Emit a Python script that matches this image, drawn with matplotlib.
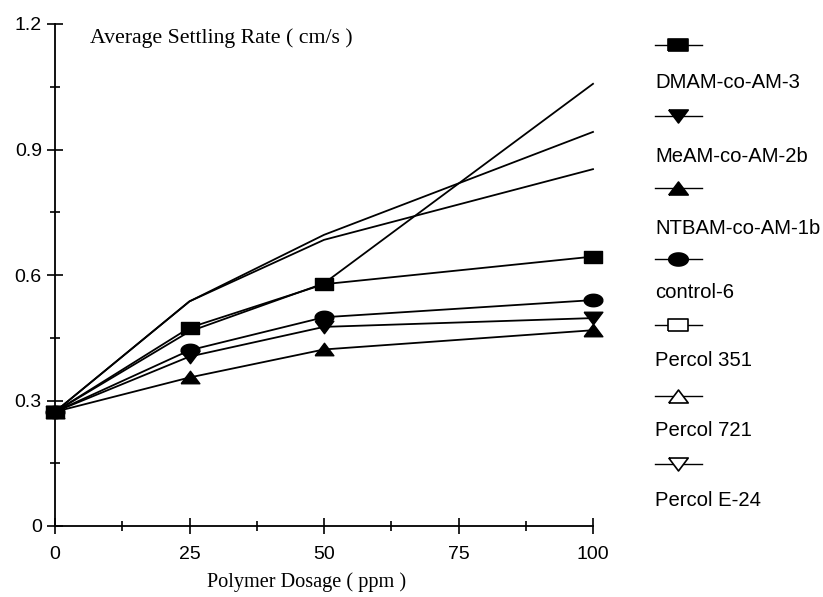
import numpy as np
import matplotlib
matplotlib.use("Agg")
import matplotlib.pyplot as plt
from matplotlib.ticker import MultipleLocator

# polymer dosage (ppm) and average settling rate (cm/s)
dosage = [0, 25, 50, 100]
dmam = [0.273, 0.474, 0.578, 0.644]
meam = [0.273, 0.405, 0.476, 0.497]
ntbam = [0.273, 0.355, 0.422, 0.468]
control6 = [0.273, 0.420, 0.499, 0.540]
percol351 = [0.273, 0.465, 0.580, 1.057]
percol721 = [0.273, 0.537, 0.696, 0.942]
percolE24 = [0.273, 0.537, 0.684, 0.853]

names = ["DMAM-co-AM-3", "MeAM-co-AM-2b", "NTBAM-co-AM-1b", "control-6",
         "Percol 351", "Percol 721", "Percol E-24"]

# wide marker shapes (scan is stretched horizontally)
t = np.linspace(0, 2*np.pi, 40)
m_rect = [(-1.5, -1), (1.5, -1), (1.5, 1), (-1.5, 1), (-1.5, -1)]
m_ell = list(zip(1.5*np.cos(t), np.sin(t)))
m_up = [(-1.5, -1), (1.5, -1), (0, 1), (-1.5, -1)]
m_down = [(-1.5, 1), (1.5, 1), (0, -1), (-1.5, 1)]
markers = [m_rect, m_down, m_up, m_ell, m_rect, m_up, m_down]
filled = [True, True, True, True, False, False, False]

W, H = 823, 597
fig = plt.figure(figsize=(W/100, H/100), dpi=100)
ax = fig.add_axes([55/W, (H-526)/H, 538/W, 502/H])

lw = 1.3
# percol lines (markers lost in the scan)
for ys in [percol351, percol721, percolE24]:
    ax.plot(dosage, ys, color='black', lw=lw, clip_on=False, zorder=2)
series = [ntbam, meam, control6, dmam]
mk = [m_up, m_down, m_ell, m_rect]
for i, ys in enumerate(series):
    ax.plot(dosage, ys, color='black', lw=lw, marker=mk[i], ms=13.5,
            mfc='black', mec='black', clip_on=False, zorder=3+i)

ax.set_xlim(0, 100)
ax.set_ylim(0, 1.2)
for s in ['top', 'right']:
    ax.spines[s].set_visible(False)
for s in ['left', 'bottom']:
    ax.spines[s].set_linewidth(1.3)
ax.xaxis.set_major_locator(MultipleLocator(25))
ax.xaxis.set_minor_locator(MultipleLocator(12.5))
ax.yaxis.set_major_locator(MultipleLocator(0.3))
ax.yaxis.set_minor_locator(MultipleLocator(0.15))
ax.yaxis.set_major_formatter(plt.FuncFormatter(lambda v, p: "0" if v == 0 else "%.1f" % v))
ax.tick_params(which='major', direction='inout', length=11, width=1.2,
               labelsize=14, labelfontfamily='Liberation Sans')
ax.tick_params(which='minor', direction='inout', length=6.5, width=1.2)
ax.tick_params(axis='x', which='major', pad=9)
ax.tick_params(axis='y', which='major', pad=4)

# overlay in pixel coordinates for text and legend
lax = fig.add_axes([0, 0, 1, 1])
lax.set_xlim(0, W)
lax.set_ylim(H, 0)
lax.axis('off')
lax.patch.set_alpha(0)

lax.text(90, 38, "Average Settling Rate ( cm/s )", family='Liberation Serif',
         fontsize=15.7, ha='left', va='center')
lax.text(307, 582, "Polymer Dosage ( ppm )", family='Liberation Serif',
         fontsize=14.6, ha='center', va='center')

handle_y = [45, 116, 188, 259, 325, 396, 464]
text_y = [83, 156, 228, 293, 360, 430, 500]
for i, name in enumerate(names):
    lax.plot([655, 702], [handle_y[i], handle_y[i]], color='black', lw=1.0)
    lax.plot([678], [handle_y[i]], marker=markers[i], ms=14, mec='black',
             mew=1.2, mfc='black' if filled[i] else 'white', color='black')
    lax.text(655, text_y[i], name, family='Liberation Sans', fontsize=14.6,
             ha='left', va='center')

fig.savefig("out.png", dpi=100)
